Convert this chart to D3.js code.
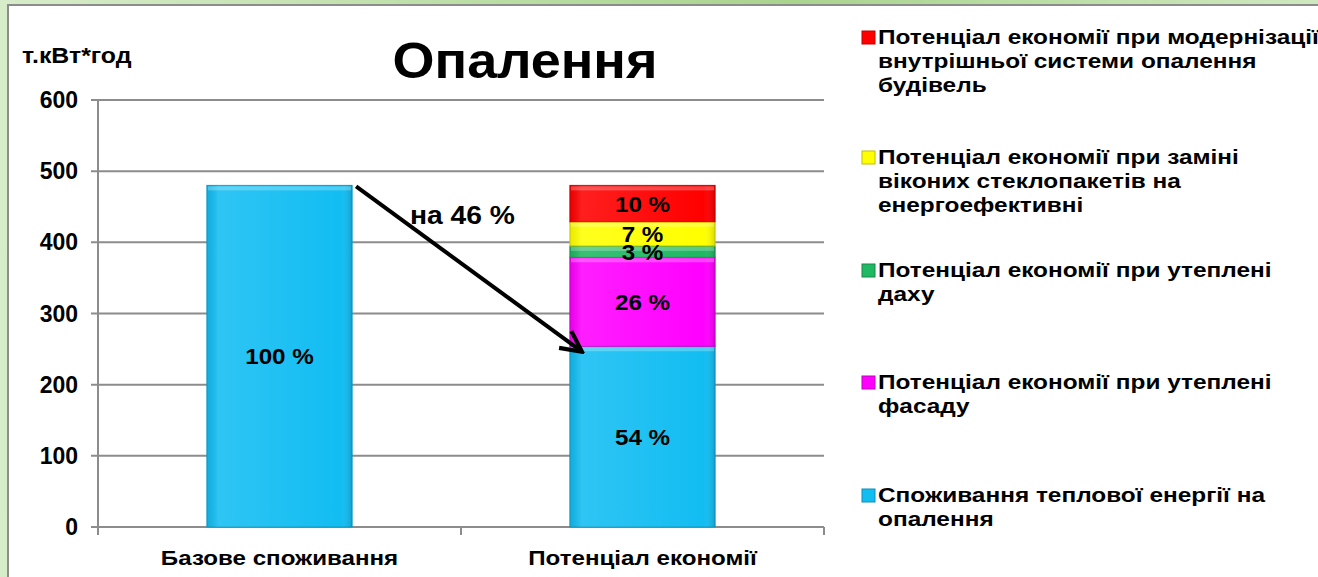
<!DOCTYPE html>
<html>
<head>
<meta charset="utf-8">
<script src="https://cdn.jsdelivr.net/npm/d3@7"></script>
<style>
  body { margin: 0; background: #fff; overflow: hidden; }
  svg { display: block; font-family: "Liberation Sans", Arial, sans-serif; font-weight: bold; }
</style>
</head>
<body>
<script>
// categories on the x axis
var categories = ["Базове споживання", "Потенціал економії"];

// stacked series, bottom to top (т.кВт*год)
var seriesNames = [
  "Споживання теплової енергії на опалення",
  "Потенціал економії  при утеплені фасаду",
  "Потенціал економії  при утеплені даху",
  "Потенціал економії при заміні віконих стеклопакетів на енергоефективні",
  "Потенціал економії при модернізації внутрішньої системи опалення будівель"
];
var baseValues = [480, 0, 0, 0, 0];
var savingValues = [254, 125, 16, 34, 51];
var segmentLabels = [["100 %", "", "", "", ""], ["54 %", "26 %", "3 %", "7 %", "10 %"]];
var seriesColors = ["#12bdf2", "#ff00ff", "#1fb863", "#ffff00", "#ff0000"];

var yTicks = [0, 100, 200, 300, 400, 500, 600];

// legend text, top to bottom, as wrapped lines
var legendLines = [
  ["Потенціал економії при модернізації", "внутрішньої системи опалення", "будівель"],
  ["Потенціал економії при заміні", "віконих стеклопакетів на", "енергоефективні"],
  ["Потенціал економії  при утеплені", "даху"],
  ["Потенціал економії  при утеплені", "фасаду"],
  ["Споживання теплової енергії на", "опалення"]
];
var legendColors = ["#ff0000", "#ffff00", "#1fb863", "#ff00ff", "#12bdf2"];
var legendTop = [44, 164, 277, 389, 502];

var width = 1318, height = 577;

// the original slide text is a little wider than the font, so stretch it
function place(px, py, sx) {
  return "translate(" + px + "," + py + ") scale(" + sx + ",1)";
}

var svg = d3.select("body").append("svg")
  .attr("width", width)
  .attr("height", height);

var defs = svg.append("defs");
var bg = defs.append("linearGradient").attr("id", "bgGreen").attr("x1", 0).attr("x2", 1);
bg.append("stop").attr("offset", "0%").attr("stop-color", "#d7ecc9");
bg.append("stop").attr("offset", "60%").attr("stop-color", "#a9d48e");
bg.append("stop").attr("offset", "100%").attr("stop-color", "#cfe8bf");

// bevel look on the bars
var shine = defs.append("linearGradient").attr("id", "shine").attr("x1", 0).attr("x2", 1);
shine.append("stop").attr("offset", "0%").attr("stop-color", "#000").attr("stop-opacity", 0.08);
shine.append("stop").attr("offset", "8%").attr("stop-color", "#fff").attr("stop-opacity", 0.12);
shine.append("stop").attr("offset", "92%").attr("stop-color", "#fff").attr("stop-opacity", 0.0);
shine.append("stop").attr("offset", "100%").attr("stop-color", "#000").attr("stop-opacity", 0.15);

defs.append("marker")
  .attr("id", "arrowHead")
  .attr("viewBox", "0 0 10 10")
  .attr("refX", 8).attr("refY", 5)
  .attr("markerWidth", 6.5).attr("markerHeight", 6.5)
  .attr("orient", "auto")
  .append("path")
  .attr("d", "M1,1 L9,5 L1,9")
  .attr("fill", "none")
  .attr("stroke", "#000")
  .attr("stroke-width", 1.6);

// green slide background with white panel
svg.append("rect").attr("width", width).attr("height", height).attr("fill", "url(#bgGreen)");
svg.append("rect")
  .attr("x", 8).attr("y", 5)
  .attr("width", width + 10).attr("height", height + 10)
  .attr("fill", "#fff")
  .attr("stroke", "#8c8c8c")
  .attr("stroke-width", 2);

var margin = {left: 98, right: 824, top: 100, bottom: 527};

var y = d3.scaleLinear().domain([0, 600]).range([margin.bottom, margin.top]);
var x = d3.scaleBand().domain(categories).range([margin.left, margin.right]).paddingInner(0.6).paddingOuter(0.3);

// grid
svg.append("g")
  .selectAll("line")
  .data(yTicks)
  .join("line")
  .attr("x1", margin.left - 7)
  .attr("x2", margin.right)
  .attr("y1", d => y(d))
  .attr("y2", d => y(d))
  .attr("stroke", "#8c8c8c")
  .attr("stroke-width", 2);

svg.append("line")
  .attr("x1", margin.left).attr("x2", margin.left)
  .attr("y1", margin.top).attr("y2", margin.bottom + 8)
  .attr("stroke", "#8c8c8c")
  .attr("stroke-width", 2);

svg.append("g")
  .selectAll("line")
  .data(categories)
  .join("line")
  .attr("x1", d => x(d) + x.bandwidth() + x.step() * 0.3)
  .attr("x2", d => x(d) + x.bandwidth() + x.step() * 0.3)
  .attr("y1", margin.bottom)
  .attr("y2", margin.bottom + 8)
  .attr("stroke", "#8c8c8c")
  .attr("stroke-width", 2);

// y tick labels
svg.append("g")
  .selectAll("text")
  .data(yTicks)
  .join("text")
  .attr("x", 78)
  .attr("y", d => y(d) + 8)
  .attr("text-anchor", "end")
  .attr("font-size", 23)
  .text(d => d);

// x category labels
svg.append("g")
  .selectAll("text")
  .data(categories)
  .join("text")
  .attr("transform", d => place(x(d) + x.bandwidth() / 2, 565, 1.15))
  .attr("text-anchor", "middle")
  .attr("font-size", 21)
  .text(d => d);

// stacks
var rows = [baseValues, savingValues];
var table = categories.map(function(c, i) {
  var o = {cat: c};
  seriesNames.forEach(function(s, j) { o[s] = rows[i][j]; });
  return o;
});
var stacked = d3.stack().keys(seriesNames)(table);

var layers = svg.append("g")
  .selectAll("g")
  .data(stacked)
  .join("g");

layers.selectAll("rect.seg")
  .data((d, j) => d.map(v => ({v: v, j: j})).filter(d => d.v[1] > d.v[0]))
  .join("rect")
  .attr("class", "seg")
  .attr("x", d => x(d.v.data.cat))
  .attr("y", d => y(d.v[1]))
  .attr("width", x.bandwidth())
  .attr("height", d => y(d.v[0]) - y(d.v[1]))
  .attr("fill", d => seriesColors[d.j])
  .attr("stroke", d => d3.color(seriesColors[d.j]).darker(0.6))
  .attr("stroke-width", 1);

layers.selectAll("rect.shine")
  .data((d, j) => d.map(v => ({v: v, j: j})).filter(d => d.v[1] > d.v[0]))
  .join("rect")
  .attr("class", "shine")
  .attr("x", d => x(d.v.data.cat))
  .attr("y", d => y(d.v[1]))
  .attr("width", x.bandwidth())
  .attr("height", d => y(d.v[0]) - y(d.v[1]))
  .attr("fill", "url(#shine)");

// light top edge of each segment
layers.selectAll("rect.edge")
  .data((d, j) => d.map(v => ({v: v, j: j})).filter(d => d.v[1] > d.v[0]))
  .join("rect")
  .attr("class", "edge")
  .attr("x", d => x(d.v.data.cat) + 1)
  .attr("y", d => y(d.v[1]) + 1)
  .attr("width", x.bandwidth() - 2)
  .attr("height", 4)
  .attr("fill", "#fff")
  .attr("opacity", 0.25);

// segment labels
var labelData = [];
stacked.forEach(function(layer, j) {
  layer.forEach(function(v, i) {
    if (segmentLabels[i][j]) labelData.push({v: v, text: segmentLabels[i][j]});
  });
});
svg.append("g")
  .selectAll("text")
  .data(labelData)
  .join("text")
  .attr("transform", d => place(x(d.v.data.cat) + x.bandwidth() / 2, y((d.v[0] + d.v[1]) / 2) + 8, 1.1))
  .attr("text-anchor", "middle")
  .attr("font-size", 22)
  .text(d => d.text);

// arrow from the base top to the remaining consumption
var baseTop = d3.sum(baseValues);
var remain = savingValues[0];
svg.append("line")
  .attr("x1", x(categories[0]) + x.bandwidth() + 4)
  .attr("y1", y(baseTop) + 1)
  .attr("x2", x(categories[1]) + 10)
  .attr("y2", y(remain) + 4)
  .attr("stroke", "#000")
  .attr("stroke-width", 4)
  .attr("marker-end", "url(#arrowHead)");

svg.append("text")
  .attr("transform", place(410, 224, 1.13))
  .attr("font-size", 25)
  .text("на 46 %");

// titles
svg.append("text")
  .attr("transform", place(525, 78, 1.08))
  .attr("text-anchor", "middle")
  .attr("font-size", 50)
  .text("Опалення");

svg.append("text")
  .attr("transform", place(22, 63, 1.13))
  .attr("font-size", 22)
  .text("т.кВт*год");

// legend
var leg = svg.append("g")
  .selectAll("g")
  .data(legendLines)
  .join("g")
  .attr("transform", (d, i) => "translate(862," + legendTop[i] + ")");

leg.append("rect")
  .attr("x", 0).attr("y", -13)
  .attr("width", 13).attr("height", 13)
  .attr("fill", (d, i) => legendColors[i])
  .attr("stroke", (d, i) => d3.color(legendColors[i]).darker(0.8))
  .attr("stroke-width", 1);

leg.append("text")
  .attr("transform", place(16, 0, 1.22))
  .attr("font-size", 20)
  .selectAll("tspan")
  .data(d => d)
  .join("tspan")
  .attr("x", 0)
  .attr("dy", (d, k) => k === 0 ? 0 : 24)
  .text(d => d);
</script>
</body>
</html>
